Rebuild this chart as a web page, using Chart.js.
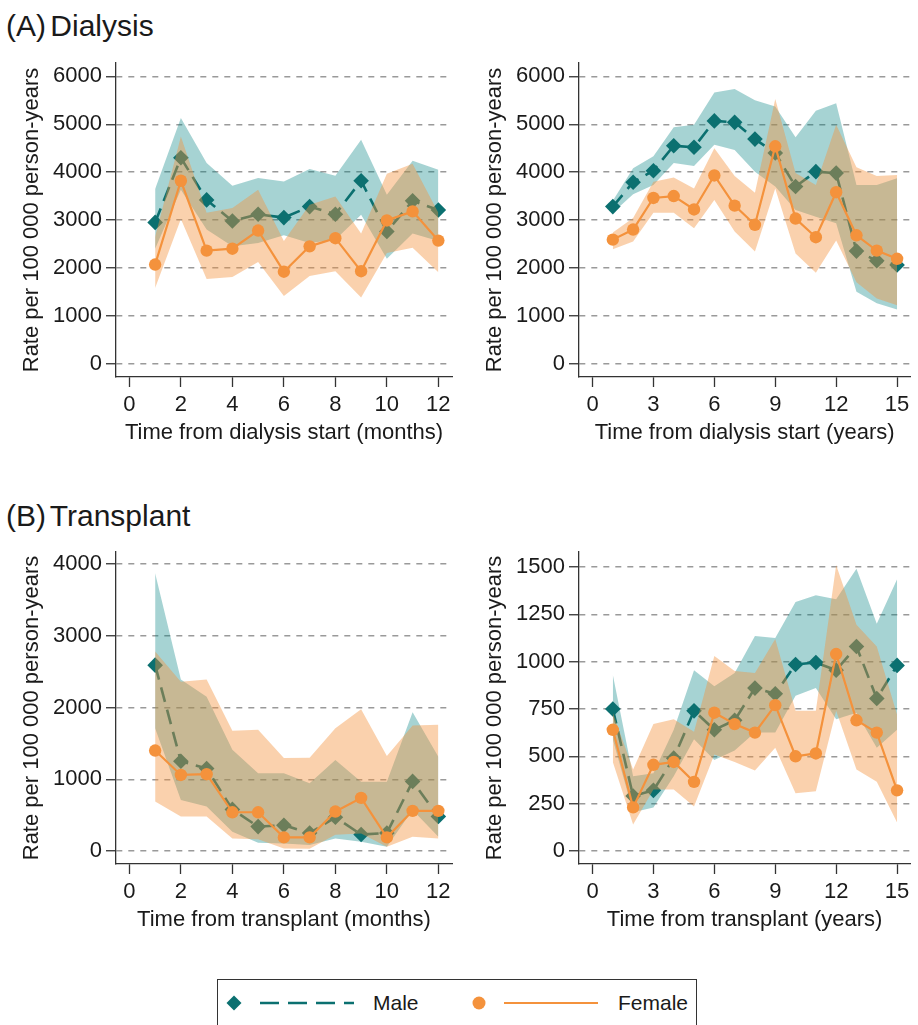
<!DOCTYPE html>
<html>
<head>
<meta charset="utf-8">
<script src="https://cdn.jsdelivr.net/npm/chart.js@4.4.1/dist/chart.umd.min.js"></script>
<style>
  html, body { margin:0; padding:0; background:#fff; }
  body { width:918px; height:1025px; overflow:hidden; position:relative;
         font-family:"Liberation Sans", Arial, sans-serif; color:#1a1a1a; }
  canvas { position:absolute; }
  .ptitle { position:absolute; left:6px; font-size:30px; line-height:30px; white-space:nowrap; word-spacing:-4px; }
  #legend { position:absolute; left:217px; top:979px; width:480px; height:70px; border:1px solid #333; box-sizing:border-box; }
  #legend svg { position:absolute; left:0; top:0; }
  .ltext { position:absolute; font-size:21px; line-height:24px; top:11px; white-space:nowrap; }
</style>
</head>
<body>
<div class="ptitle" style="top:11px">(A) Dialysis</div>
<div class="ptitle" style="top:501px">(B) Transplant</div>

<canvas id="c1" width="460" height="407" style="left:0px;top:43px"></canvas>
<canvas id="c2" width="455" height="407" style="left:463px;top:43px"></canvas>
<canvas id="c3" width="460" height="405" style="left:0px;top:532px"></canvas>
<canvas id="c4" width="455" height="405" style="left:463px;top:532px"></canvas>

<div id="legend">
  <svg width="480" height="70">
    <polygon points="16,15.5 23.5,23 16,30.5 8.5,23" fill="#0b7070"/>
    <line x1="42" y1="23" x2="136" y2="23" stroke="#0b7070" stroke-width="2.6" stroke-dasharray="19,9"/>
    <circle cx="261" cy="23" r="6.5" fill="#f4923c"/>
    <line x1="286" y1="23" x2="380" y2="23" stroke="#f4923c" stroke-width="2.2"/>
  </svg>
  <div class="ltext" style="left:155px">Male</div>
  <div class="ltext" style="left:400px">Female</div>
</div>

<script>
// ---------- categories / ticks ----------
const monthsX = [1,2,3,4,5,6,7,8,9,10,11,12];
const yearsX  = [1,2,3,4,5,6,7,8,9,10,11,12,13,14,15];
const xTicksMonths = [0,2,4,6,8,10,12];
const xTicksYears  = [0,3,6,9,12,15];
const yTicksDialysis = [0,1000,2000,3000,4000,5000,6000];
const yTicksTxMonths = [0,1000,2000,3000,4000];
const yTicksTxYears  = [0,250,500,750,1000,1250,1500];

// ---------- (A) Dialysis, months ----------
const dmMale   = [2950,4300,3420,2980,3120,3050,3280,3120,3820,2760,3400,3210];
const dmMaleUp = [3650,5130,4190,3715,3875,3805,4065,3925,4675,3530,4240,4050];
const dmMaleLo = [2400,3630,2800,2450,2520,2680,2520,2590,3110,2190,2720,2560];
const dmFem    = [2070,3820,2360,2400,2780,1920,2450,2620,1930,2990,3180,2570];
const dmFemUp  = [2650,4745,3150,3250,3630,2560,3320,3490,2720,3965,4175,3150];
const dmFemLo  = [1580,3020,1770,1810,2120,1410,1830,1930,1380,2310,2420,1910];

// ---------- (A) Dialysis, years ----------
const dyMale   = [3280,3790,4030,4550,4520,5070,5040,4690,4400,3700,4010,3980,2350,2150,2060];
const dyMaleUp = [3400,4080,4330,4940,4990,5665,5735,5500,5370,4730,5280,5440,3730,3730,3870];
const dyMaleLo = [3150,3540,3730,4190,4130,4570,4460,4010,3700,3210,3070,2930,1500,1260,1130];
const dyFem    = [2590,2800,3460,3500,3220,3930,3300,2900,4540,3030,2640,3580,2680,2360,2190];
const dyFemUp  = [2740,3040,3800,3890,3660,4500,3920,3570,5530,3980,3730,4990,4100,3920,3940];
const dyFemLo  = [2390,2550,3150,3150,2830,3420,2760,2340,3660,2300,1900,2570,1700,1360,1220];

// ---------- (B) Transplant, months ----------
const tmMale   = [2590,1250,1150,580,340,360,250,470,230,250,970,480];
const tmMaleUp = [3870,2390,2150,1410,1085,1085,945,1270,965,965,1935,1315];
const tmMaleLo = [1710,710,620,270,115,105,85,175,130,60,570,200];
const tmFem    = [1400,1060,1070,540,540,190,190,550,740,190,560,560];
const tmFemUp  = [2780,2360,2390,1675,1690,1295,1300,1710,1975,1325,1750,1760];
const tmFemLo  = [690,480,480,175,165,35,30,225,245,60,200,175];

// ---------- (B) Transplant, years ----------
const tyMale   = [750,290,320,490,740,640,690,860,830,985,995,955,1080,805,980];
const tyMaleUp = [930,395,410,640,955,870,940,1135,1125,1315,1350,1330,1490,1200,1435];
const tyMaleLo = [590,205,230,395,590,480,530,625,625,820,860,695,730,545,640];
const tyFem    = [640,230,455,470,365,730,670,625,770,500,515,1040,690,625,320];
const tyFemUp  = [730,430,670,695,630,1030,950,940,1120,740,740,1510,1195,1080,720];
const tyFemLo  = [470,140,325,325,235,510,470,425,545,305,315,740,430,365,150];

// ---------- styling ----------
const TEAL = 'rgb(11,112,112)';
const TEAL_BAND = 'rgba(0,128,128,0.35)';
const ORANGE = 'rgb(244,146,60)';
const ORANGE_BAND = 'rgba(244,146,60,0.42)';
const AXIS = '#333';
const FONT = '"Liberation Sans", Arial, sans-serif';

function pts(xs, ys) { return xs.map((x, i) => ({ x: x, y: ys[i] })); }

function makeChart(id, xs, m, mUp, mLo, f, fUp, fLo, o) {
  const bandBase = { pointRadius: 0, borderWidth: 0, borderColor: 'transparent', tension: 0 };
  new Chart(document.getElementById(id), {
    type: 'line',
    data: {
      datasets: [
        { label: 'Female', data: pts(xs, f), borderColor: ORANGE, borderWidth: 2.2,
          pointStyle: 'circle', pointRadius: 6.2, pointBackgroundColor: ORANGE, pointBorderWidth: 0,
          fill: false, tension: 0 },
        Object.assign({ label: 'FemaleUp', data: pts(xs, fUp), fill: '+1', backgroundColor: ORANGE_BAND }, bandBase),
        Object.assign({ label: 'FemaleLo', data: pts(xs, fLo), fill: false }, bandBase),
        { label: 'Male', data: pts(xs, m), borderColor: TEAL, borderWidth: 2.6, borderDash: [15, 8],
          pointStyle: 'rectRot', pointRadius: 7.8, pointBackgroundColor: TEAL, pointBorderWidth: 0,
          fill: false, tension: 0 },
        Object.assign({ label: 'MaleUp', data: pts(xs, mUp), fill: '+1', backgroundColor: TEAL_BAND }, bandBase),
        Object.assign({ label: 'MaleLo', data: pts(xs, mLo), fill: false }, bandBase)
      ]
    },
    options: {
      responsive: false,
      animation: false,
      devicePixelRatio: 1,
      layout: { padding: { top: 20, right: o.padRight, left: 0, bottom: 0 } },
      plugins: { legend: { display: false }, tooltip: { enabled: false } },
      events: [],
      scales: {
        x: {
          type: 'linear', min: o.xMin, max: o.xMax,
          afterBuildTicks: s => { s.ticks = o.xTicks.map(v => ({ value: v })); },
          afterFit: s => { s.height = 73; },
          grid: { drawOnChartArea: false, drawTicks: true, tickLength: 10, tickColor: AXIS, tickWidth: 1.3 },
          border: { display: true, color: AXIS, width: 1.3 },
          ticks: { padding: 5, color: '#1a1a1a', font: { family: FONT, size: 22 }, maxRotation: 0,
                   autoSkip: false, callback: v => String(v) },
          title: { display: true, text: o.xTitle, color: '#1a1a1a', font: { family: FONT, size: 22 },
                   padding: { top: 0, bottom: 4 } }
        },
        y: {
          type: 'linear', min: o.yMin, max: o.yMax,
          afterBuildTicks: s => { s.ticks = o.yTicks.map(v => ({ value: v })); },
          afterFit: s => { s.width = 116; },
          grid: { drawOnChartArea: true, color: '#9a9a9a', lineWidth: 1.5, drawTicks: true,
                  tickLength: 10, tickColor: AXIS, tickWidth: 1.3 },
          border: { display: true, color: AXIS, width: 1.3, dash: [6, 6] },
          ticks: { padding: 4, color: '#1a1a1a', font: { family: FONT, size: 22 },
                   autoSkip: false, callback: v => String(v) },
          title: { display: true, text: 'Rate per 100 000 person-years', color: '#1a1a1a',
                   font: { family: FONT, size: 22 }, padding: { top: 19, bottom: 0 } }
        }
      }
    }
  });
}

makeChart('c1', monthsX, dmMale, dmMaleUp, dmMaleLo, dmFem, dmFemUp, dmFemLo,
  { xMin: -0.52, xMax: 12.53, xTicks: xTicksMonths, yMin: -280, yMax: 6280, yTicks: yTicksDialysis,
    xTitle: 'Time from dialysis start (months)', padRight: 8 });
makeChart('c2', yearsX, dyMale, dyMaleUp, dyMaleLo, dyFem, dyFemUp, dyFemLo,
  { xMin: -0.665, xMax: 15.646, xTicks: xTicksYears, yMin: -280, yMax: 6280, yTicks: yTicksDialysis,
    xTitle: 'Time from dialysis start (years)', padRight: 3 });
makeChart('c3', monthsX, tmMale, tmMaleUp, tmMaleLo, tmFem, tmFemUp, tmFemLo,
  { xMin: -0.52, xMax: 12.53, xTicks: xTicksMonths, yMin: -181, yMax: 4167, yTicks: yTicksTxMonths,
    xTitle: 'Time from transplant (months)', padRight: 8 });
makeChart('c4', yearsX, tyMale, tyMaleUp, tyMaleLo, tyFem, tyFemUp, tyFemLo,
  { xMin: -0.665, xMax: 15.646, xTicks: xTicksYears, yMin: -69, yMax: 1579, yTicks: yTicksTxYears,
    xTitle: 'Time from transplant (years)', padRight: 3 });
</script>
</body>
</html>
